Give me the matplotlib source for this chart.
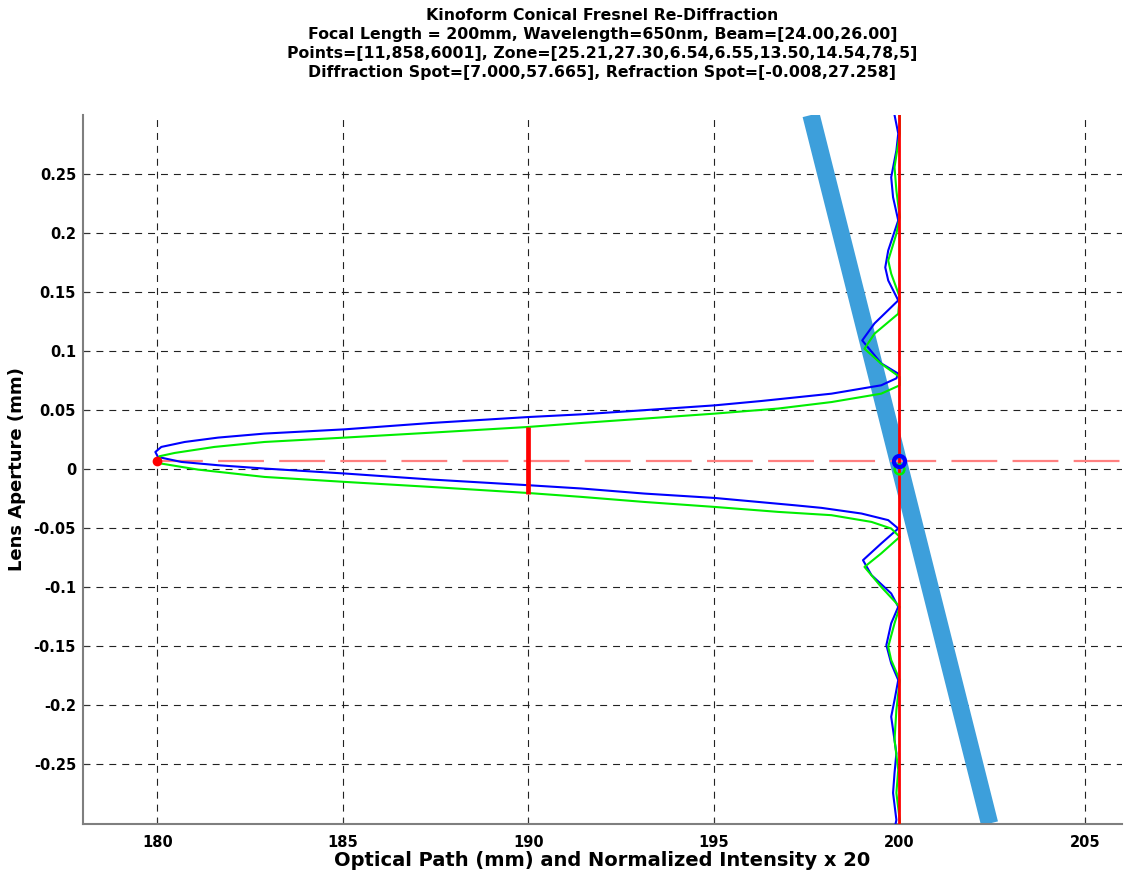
import matplotlib
matplotlib.use("Agg")
import matplotlib.pyplot as plt

plt.rcParams['font.family'] = ['DejaVu Sans']
plt.rcParams['lines.scale_dashes'] = False

title_lines = [
    "Kinoform Conical Fresnel Re-Diffraction",
    "Focal Length = 200mm, Wavelength=650nm, Beam=[24.00,26.00]",
    "Points=[11,858,6001], Zone=[25.21,27.30,6.54,6.55,13.50,14.54,78,5]",
    "Diffraction Spot=[7.000,57.665], Refraction Spot=[-0.008,27.258]",
]
xlabel = "Optical Path (mm) and Normalized Intensity x 20"
ylabel = "Lens Aperture (mm)"

x_ticks = [180, 185, 190, 195, 200, 205]
y_ticks = [0.25, 0.2, 0.15, 0.1, 0.05, 0, -0.05, -0.1, -0.15, -0.2, -0.25]
y_ticklabels = ["0.25", "0.2", "0.15", "0.1", "0.05", "0", "-0.05", "-0.1", "-0.15", "-0.2", "-0.25"]

# intensity profile (blue), top to bottom
blue_x = [199.87, 199.97, 199.92, 199.78, 199.83, 199.97, 199.70, 199.62, 199.70, 199.97,
          199.33, 199.00, 199.51, 199.97, 199.92, 199.51, 198.17, 196.28, 195.02, 192.69,
          191.43, 189.99, 187.39, 185.05, 182.89, 181.64, 180.74, 180.11, 179.95, 180.02,
          180.65, 181.64, 182.89, 185.05, 187.39, 189.99, 191.43, 193.13, 195.02, 197.18,
          197.90, 198.98, 199.70, 199.97, 199.51, 199.02, 199.25, 199.78, 199.97, 199.78,
          199.65, 199.78, 199.97, 199.87, 199.78, 199.92, 199.87, 199.83, 199.92, 199.90]
blue_y = [0.300, 0.2843, 0.2699, 0.2473, 0.2304, 0.2107, 0.1853, 0.1709, 0.1599, 0.1430,
          0.1235, 0.1091, 0.0897, 0.0810, 0.0770, 0.0711, 0.0640, 0.0578, 0.0541, 0.0491,
          0.0465, 0.0442, 0.0392, 0.0338, 0.0302, 0.0268, 0.0231, 0.0189, 0.0146, 0.0104,
          0.0062, 0.0034, 0.0006, -0.0036, -0.0087, -0.0135, -0.0163, -0.0206, -0.0243, -0.0305,
          -0.0327, -0.0375, -0.0431, -0.0502, -0.0629, -0.0770, -0.0897, -0.1052, -0.1165, -0.1305,
          -0.1489, -0.1644, -0.1785, -0.1954, -0.2096, -0.2405, -0.2572, -0.2741, -0.2970, -0.300]

# intensity profile (green), top to bottom
green_x = [200.01, 200.01, 199.87, 199.92, 200.01, 199.92, 199.70, 199.78, 200.01, 199.97,
           199.33, 199.06, 199.51, 200.01, 200.01, 199.51, 198.17, 196.73, 195.02, 193.13,
           191.43, 189.99, 187.39, 185.05, 182.89, 181.54, 180.47, 180.06, 180.11, 181.10,
           182.89, 185.05, 187.39, 189.99, 191.43, 193.13, 195.02, 196.73, 198.17, 199.25,
           199.78, 200.01, 199.51, 199.06, 199.51, 200.01, 199.87, 199.70, 199.78, 200.01,
           199.92, 199.87, 199.97, 199.92, 200.01, 200.01]
green_y = [0.300, 0.2843, 0.2558, 0.2360, 0.2135, 0.1994, 0.1768, 0.1656, 0.1458, 0.1317,
           0.1148, 0.1021, 0.0894, 0.0781, 0.0711, 0.0640, 0.0569, 0.0514, 0.0471, 0.0429,
           0.0392, 0.0358, 0.0310, 0.0268, 0.0231, 0.0189, 0.0138, 0.0110, 0.0048, -0.0003,
           -0.0065, -0.0107, -0.0150, -0.0201, -0.0234, -0.0277, -0.0319, -0.0361, -0.0389, -0.0446,
           -0.0502, -0.0573, -0.0713, -0.0827, -0.0996, -0.1165, -0.1305, -0.1503, -0.1616, -0.1785,
           -0.2039, -0.2293, -0.2547, -0.2741, -0.2970, -0.300]

ray_x = [197.62, 202.43]
ray_y = [0.30, -0.30]

focal_x = 200.0
axis_y = 0.007
dash_x = [180.0, 206.0]
seg_x = 190.0
seg_y = [-0.021, 0.0355]
origin_pt = (180.0, 0.007)
focus_pt = (200.0, 0.007)
refr_pt = (200.0, 0.0)

xlim = (178, 206)
ylim = (-0.3, 0.3)

fig = plt.figure(figsize=(11.28, 8.71), dpi=100)
ax = fig.add_axes([83/1128, 1 - 823.5/871, (1122 - 83)/1128, (823.5 - 115)/871])

ax.plot(ray_x, ray_y, color='#3d9fdb', lw=12.5, solid_capstyle='butt', zorder=2)
ax.plot(blue_x, blue_y, color='#0000ff', lw=1.5, zorder=3)
ax.plot(green_x, green_y, color='#00ee00', lw=1.5, zorder=3)
ax.plot(dash_x, [axis_y, axis_y], color='#ff8080', lw=1.6, dashes=(33, 11), zorder=2.5)
ax.axvline(focal_x, color='#ff0000', lw=2.0, zorder=4)
ax.plot([seg_x, seg_x], seg_y, color='#ff0000', lw=3.4, solid_capstyle='butt', zorder=4)
ax.plot([origin_pt[0]], [origin_pt[1]], 'o', color='#ff0000', ms=6, zorder=5)
ax.plot([refr_pt[0]], [refr_pt[1]], 'o', mfc='none', mec='#00ee00', ms=7, mew=1.8, zorder=5)
ax.plot([focus_pt[0]], [focus_pt[1]], 'o', mfc='none', mec='#0000ff', ms=8, mew=3.0, zorder=6)

ax.set_xlim(*xlim)
ax.set_ylim(*ylim)
ax.set_xticks(x_ticks)
ax.set_xticklabels([str(t) for t in x_ticks])
ax.set_yticks(y_ticks)
ax.set_yticklabels(y_ticklabels)

for s in ['top', 'right']:
    ax.spines[s].set_visible(False)
for s in ['left', 'bottom']:
    ax.spines[s].set_color('#7f7f7f')
    ax.spines[s].set_linewidth(1.5)

ax.tick_params(direction='in', length=4, width=0.8, color='#333333', labelsize=10.5)
ax.tick_params(axis='x', pad=8)
ax.tick_params(axis='y', pad=5)
for lab in ax.get_xticklabels() + ax.get_yticklabels():
    lab.set_fontweight('bold')

ax.grid(True, color='#222222', lw=0.8, linestyle=(0, (5, 4.3)))
ax.set_axisbelow(True)

ax.set_xlabel(xlabel, fontsize=14, fontweight='bold', va='center')
ax.xaxis.set_label_coords(0.5, -(860 - 823.5) / 708.5)
ax.set_ylabel(ylabel, fontsize=13, fontweight='bold', va='center')
ax.yaxis.set_label_coords(-(83 - 17) / 1039, 0.5)

fig.text(602.5/1128, 1 - 8/871, "\n".join(title_lines), ha='center', va='top',
         fontsize=11.3, fontweight='bold', linespacing=1.33)

fig.savefig("out.png", dpi=100)
